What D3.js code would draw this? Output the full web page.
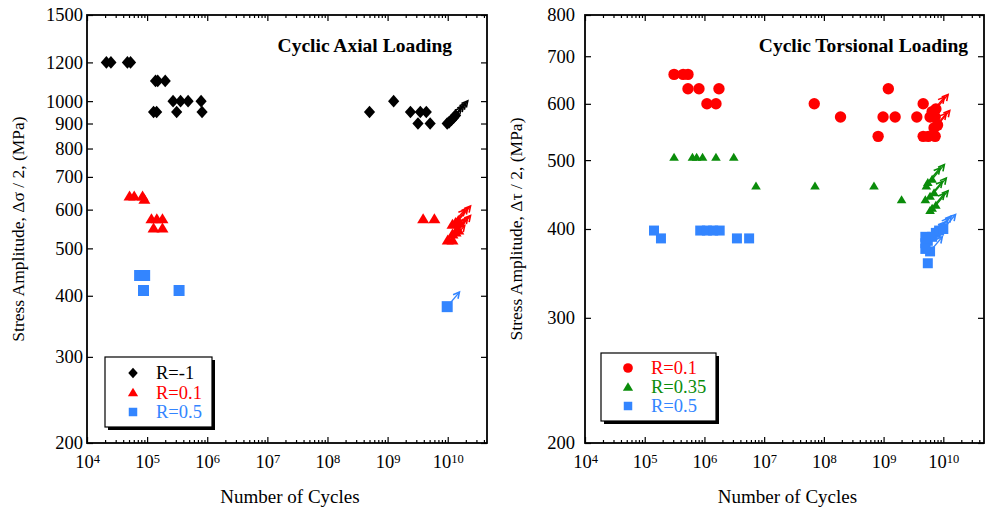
<!DOCTYPE html>
<html><head><meta charset="utf-8">
<script src="https://cdn.jsdelivr.net/npm/d3@7"></script>
<style>body{margin:0;background:#fff} svg{display:block}</style>
</head><body><svg id="c" width="985" height="511"></svg>
<script>
// ---------------- DATA ----------------
const xTickValues = [1e4, 1e5, 1e6, 1e7, 1e8, 1e9, 1e10];
const axialYTicks = [200, 300, 400, 500, 600, 700, 800, 900, 1000, 1200, 1500];
const torsionYTicks = [200, 300, 400, 500, 600, 700, 800];

// Cyclic axial loading  [cycles, stress amplitude MPa]
const axialRm1 = [[2.1e4,1200],[2.5e4,1200],[4.7e4,1200],[5.3e4,1200],
  [1.38e5,1100],[1.5e5,1100],[2.0e5,1100],
  [1.28e5,950],[1.44e5,950],[3.1e5,950],[8.2e5,950],
  [2.7e5,1000],[3.6e5,1000],[4.8e5,1000],[7.9e5,1000],
  [5.0e8,950],[1.26e9,1000],[2.4e9,950],[3.5e9,950],[4.4e9,950],
  [3.2e9,900],[5.1e9,900],[9.8e9,900]];
const axialRm1Runout = [[1.05e10,905],[1.15e10,915],[1.25e10,925],[1.35e10,935]];
const axialR01 = [[5.1e4,640],[6.1e4,640],[8.4e4,640],[9.0e4,630],
  [1.18e5,575],[1.45e5,575],[1.8e5,575],[1.28e5,550],[1.8e5,550],
  [3.9e9,575],[6.0e9,575]];
const axialR01Runout = [[1.0e10,520],[1.2e10,520],[1.2e10,535],[1.35e10,540],[1.5e10,545],
  [1.2e10,560],[1.35e10,565],[1.5e10,570]];
const axialR05 = [[7.5e4,440],[9.1e4,440],[8.7e4,410],[3.4e5,410]];
const axialR05Runout = [[9.8e9,380]];

// Cyclic torsional loading
const torsR01 = [[3.1e5,660],[4.4e5,660],[5.3e5,660],
  [5.3e5,630],[8.1e5,630],[1.75e6,630],
  [1.1e6,600],[1.56e6,600],[6.9e7,600],[4.6e9,600],[1.2e9,630],
  [1.9e8,575],[9.8e8,575],[1.56e9,575],[3.6e9,575],[6.0e9,575],[7.3e9,575],
  [8.1e8,540],[4.6e9,540],[5.6e9,540],[7.3e9,540]];
const torsR01Runout = [[6.5e9,585],[7.5e9,590],[7.0e9,555],[8.0e9,560]];
const torsR035 = [[3.1e5,505],[6.3e5,505],[7.4e5,505],[9.3e5,505],[1.56e6,505],[3.1e6,505],
  [7.3e6,460],[7.1e7,460],[6.9e8,460],[5.2e9,460],[2.0e9,440],[5.0e9,440],[6.0e9,425]];
const torsR035Runout = [[5.5e9,465],[6.5e9,470],[6.0e9,445],[7.0e9,450],[6.5e9,428],[7.5e9,432]];
const torsR05 = [[1.43e5,398],[8.5e5,398],[1.1e6,398],[1.4e6,398],[1.8e6,398],
  [1.87e5,388],[3.5e6,388],[5.6e6,388],
  [5.0e9,390],[5.0e9,382],[5.0e9,375],[5.5e9,358]];
const torsR05Runout = [[5.5e9,385],[6.5e9,390],[7.5e9,395],[8.5e9,398],[1.0e10,400],[6.0e9,372]];

const legendAxial = ["R=-1", "R=0.1", "R=0.5"];
const legendTors = ["R=0.1", "R=0.35", "R=0.5"];

// ---------------- STYLE ----------------
const BLACK = "#000000", RED = "#ff0000", BLUE = "#3385ff", GREEN = "#0a8c0a";
const FONT = "'Liberation Serif', 'Times New Roman', serif";

const svg = d3.select("#c");

const shapes = {
  diamond: s => `M0,${-6.3*s}L${5.6*s},0L0,${6.3*s}L${-5.6*s},0Z`,
  triangle: s => `M0,${-5.5*s}L${6*s},${4.5*s}L${-6*s},${4.5*s}Z`,
  square: s => `M${-5*s},${-5*s}h${10*s}v${10*s}h${-10*s}Z`,
  circle: s => d3.arc()({innerRadius:0, outerRadius:5.7*s, startAngle:0, endAngle:2*Math.PI})
};

function drawMarks(g, x, y, data, shape, color, s) {
  g.append("g").selectAll("path").data(data).join("path")
    .attr("transform", d => `translate(${x(d[0])},${y(d[1])})`)
    .attr("d", shapes[shape](s)).attr("fill", color);
}
function drawArrows(g, x, y, data, color) {
  const L = 19, ang = 50;
  const a = ang * Math.PI / 180;
  const dx = L * Math.cos(a), dy = -L * Math.sin(a);
  const ag = g.append("g").selectAll("g").data(data).join("g")
    .attr("transform", d => `translate(${x(d[0])},${y(d[1])})`);
  ag.append("line").attr("x1", 0).attr("y1", 0).attr("x2", dx).attr("y2", dy)
    .attr("stroke", color).attr("stroke-width", 1.4);
  ag.append("path")
    .attr("d", `M-6,-3.2L0,0L-6,3.2`)
    .attr("transform", `translate(${dx},${dy}) rotate(${-ang})`)
    .attr("fill", "none").attr("stroke", color).attr("stroke-width", 1.6);
}

function panel(cfg) {
  const g = svg.append("g");
  const x = d3.scaleLog().domain(cfg.xDomain).range([cfg.left, cfg.right]);
  const y = d3.scaleLog().domain(cfg.yDomain).range([cfg.bottom, cfg.top]);

  const minor = [];
  for (let e = 4; e <= 10; e++) for (let m = 2; m <= 9; m++) { const v = m * Math.pow(10, e); if (v < cfg.xDomain[1]) minor.push(v); }

  const styleAxis = sel => { sel.select(".domain").remove(); sel.selectAll("line").attr("stroke", "#000").attr("stroke-width", 1.2); sel.attr("font-family", FONT).attr("font-size", 18.5); };

  g.append("g").attr("transform", `translate(0,${cfg.bottom})`)
    .call(d3.axisBottom(x).tickValues(minor).tickSizeInner(-3).tickSizeOuter(0).tickFormat("")).call(styleAxis);
  g.append("g").attr("transform", `translate(0,${cfg.top})`)
    .call(d3.axisTop(x).tickValues(minor).tickSizeInner(-3).tickSizeOuter(0).tickFormat("")).call(styleAxis);
  g.append("g").attr("transform", `translate(0,${cfg.top})`)
    .call(d3.axisTop(x).tickValues(xTickValues).tickSizeInner(-6).tickSizeOuter(0).tickFormat("")).call(styleAxis);
  const xb = g.append("g").attr("transform", `translate(0,${cfg.bottom})`)
    .call(d3.axisBottom(x).tickValues(xTickValues).tickSizeInner(-6).tickSizeOuter(0).tickPadding(12).tickFormat(() => "")).call(styleAxis);
  xb.selectAll(".tick text").attr("fill", "#000").each(function(d) {
    const t = d3.select(this);
    t.append("tspan").text("10");
    t.append("tspan").attr("dy", "-0.42em").attr("font-size", 12.5).text(Math.round(Math.log10(d)));
  });

  g.append("g").attr("transform", `translate(${cfg.left},0)`)
    .call(d3.axisLeft(y).tickValues(cfg.yTicks).tickSizeInner(-6).tickSizeOuter(0).tickPadding(cfg.yPad).tickFormat(d3.format("d")))
    .call(styleAxis).selectAll("text").attr("fill", "#000");
  g.append("g").attr("transform", `translate(${cfg.right},0)`)
    .call(d3.axisRight(y).tickValues(cfg.yTicks).tickSizeInner(-6).tickSizeOuter(0).tickFormat(""))
    .call(styleAxis);

  g.append("rect").attr("x", cfg.left).attr("y", cfg.top)
    .attr("width", cfg.right - cfg.left).attr("height", cfg.bottom - cfg.top)
    .attr("fill", "none").attr("stroke", "#000").attr("stroke-width", 1.8);

  cfg.series.forEach(s => {
    drawArrows(g, x, y, s.runout, s.color);
    drawMarks(g, x, y, s.runout, s.shape, s.color, s.size);
    drawMarks(g, x, y, s.data, s.shape, s.color, s.size);
  });

  g.append("text").attr("x", cfg.titleX).attr("y", cfg.top + 37).attr("text-anchor", "end")
    .attr("font-family", FONT).attr("font-weight", "bold").attr("font-size", 19.5).text(cfg.title);

  g.append("text").attr("x", (cfg.left + cfg.right) / 2 + 3).attr("y", 503).attr("text-anchor", "middle")
    .attr("font-family", FONT).attr("font-size", 19).text("Number of Cycles");
  g.append("text").attr("transform", `translate(${cfg.ytX},${(cfg.top + cfg.bottom) / 2}) rotate(-90)`)
    .attr("text-anchor", "middle").attr("font-family", FONT).attr("font-size", 17.5).text(cfg.yTitle);

  const lg = cfg.legend;
  g.append("rect").attr("x", lg.x + 3).attr("y", lg.y + 3).attr("width", lg.w).attr("height", lg.h).attr("fill", "#000");
  g.append("rect").attr("x", lg.x).attr("y", lg.y).attr("width", lg.w).attr("height", lg.h)
    .attr("fill", "#fff").attr("stroke", "#000").attr("stroke-width", 1.2);
  cfg.series.forEach((s, i) => {
    const cy = lg.y + lg.first + i * lg.step;
    g.append("path").attr("transform", `translate(${lg.mx},${cy})`).attr("d", shapes[s.shape](0.85)).attr("fill", s.color);
    g.append("text").attr("x", lg.tx).attr("y", cy).attr("dy", "0.35em")
      .attr("font-family", FONT).attr("font-size", 18.5).attr("fill", s.color).text(cfg.legendLabels[i]);
  });
}

panel({
  left: 87, right: 487, top: 15, bottom: 443,
  xDomain: [1e4, 4.5e10], yDomain: [200, 1500], yTicks: axialYTicks, yPad: 4,
  title: "Cyclic Axial Loading", titleX: 452,
  yTitle: "Stress Amplitude, \u0394\u03c3 / 2, (MPa)", ytX: 24,
  legend: { x: 105, y: 357, w: 107, h: 70, first: 16, step: 19.5, mx: 133, tx: 156 },
  legendLabels: legendAxial,
  series: [
    { data: axialRm1, runout: axialRm1Runout, shape: "diamond", color: BLACK, size: 1 },
    { data: axialR01, runout: axialR01Runout, shape: "triangle", color: RED, size: 1 },
    { data: axialR05, runout: axialR05Runout, shape: "square", color: BLUE, size: 1.1 }
  ]
});

panel({
  left: 585, right: 984, top: 15, bottom: 443,
  xDomain: [1e4, 4.8e10], yDomain: [200, 800], yTicks: torsionYTicks, yPad: 10,
  title: "Cyclic Torsional Loading", titleX: 968,
  yTitle: "Stress Amplitude, \u0394\u03c4 / 2, (MPa)", ytX: 522,
  legend: { x: 601, y: 353, w: 115, h: 68, first: 15, step: 19, mx: 628, tx: 651 },
  legendLabels: legendTors,
  series: [
    { data: torsR01, runout: torsR01Runout, shape: "circle", color: RED, size: 1 },
    { data: torsR035, runout: torsR035Runout, shape: "triangle", color: GREEN, size: 0.8 },
    { data: torsR05, runout: torsR05Runout, shape: "square", color: BLUE, size: 1 }
  ]
});
</script>
</body></html>
